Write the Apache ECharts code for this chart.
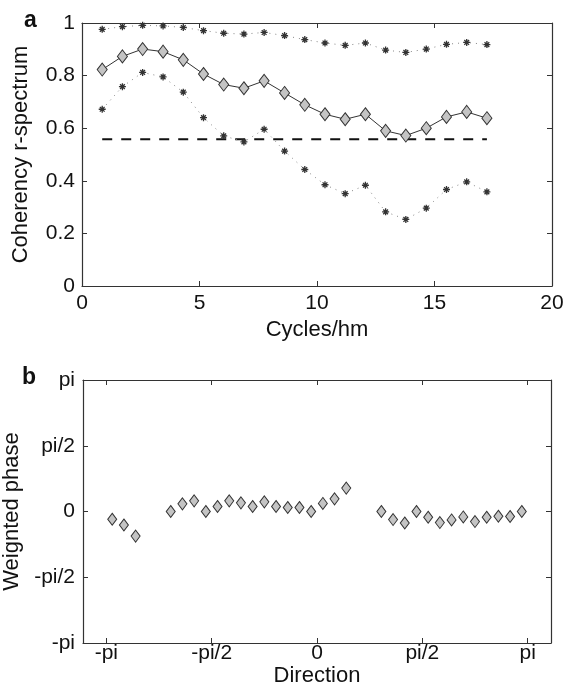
<!DOCTYPE html>
<html>
<head>
<meta charset="utf-8">
<script src="https://cdn.jsdelivr.net/npm/echarts@6/dist/echarts.min.js"></script>
<style>html,body{margin:0;padding:0;background:#fff}#c{width:564px;height:697px}</style>
</head>
<body>
<div id="c"></div>
<script>
// Panel a: coherency r-spectrum vs cycles/hm
var cycles = [0.86, 1.72, 2.58, 3.45, 4.31, 5.17, 6.03, 6.89, 7.75, 8.62, 9.48, 10.34, 11.20, 12.06, 12.92, 13.78, 14.65, 15.51, 16.37, 17.23];
var coherency = [0.823, 0.873, 0.901, 0.891, 0.860, 0.806, 0.766, 0.752, 0.780, 0.734, 0.689, 0.653, 0.634, 0.653, 0.590, 0.572, 0.600, 0.643, 0.662, 0.638];
var upperBound = [0.976, 0.986, 0.991, 0.989, 0.983, 0.971, 0.961, 0.958, 0.964, 0.952, 0.937, 0.924, 0.915, 0.924, 0.897, 0.888, 0.901, 0.919, 0.926, 0.918];
var lowerBound = [0.672, 0.758, 0.812, 0.795, 0.737, 0.640, 0.571, 0.548, 0.596, 0.513, 0.443, 0.385, 0.351, 0.383, 0.282, 0.253, 0.296, 0.367, 0.396, 0.358];
var threshold = 0.558;
var thresholdRange = [0.86, 17.23];

// Panel b: weighted phase vs direction (degrees)
var directionDeg = [-175, -165, -155,
  -125, -115, -105, -95, -85, -75, -65, -55, -45, -35, -25, -15, -5, 5, 15, 25,
  55, 65, 75, 85, 95, 105, 115, 125, 135, 145, 155, 165, 175];
var phase = [-0.185, -0.322, -0.587,
  0.000, 0.183, 0.255, 0.000, 0.120, 0.255, 0.207, 0.120, 0.231, 0.120, 0.096, 0.096, 0.000, 0.192, 0.303, 0.560,
  0.000, -0.192, -0.274, 0.000, -0.137, -0.264, -0.202, -0.130, -0.240, -0.137, -0.113, -0.120, 0.000];
var piTickLabels = ['-pi', '-pi/2', '0', 'pi/2', 'pi'];

var PI = Math.PI;
var piTicks = [-PI, -PI / 2, 0, PI / 2, PI];
function piLabel(v) {
  for (var i = 0; i < piTicks.length; i++) if (Math.abs(v - piTicks[i]) < 1e-6) return piTickLabels[i];
  return '';
}

var FONT = 'Liberation Sans';
var axisCol = '#333';
var asterisk = 'path://M5,0L5,10M0,5L10,5M1.6,1.6L8.4,8.4M1.6,8.4L8.4,1.6';

function zip(xs, ys) { return xs.map(function (x, i) { return [x, ys[i]]; }); }

var labelStyle = { color: '#111', fontFamily: FONT, fontSize: 21 };
var nameStyle = { color: '#111', fontFamily: FONT, fontSize: 22 };

function frameAxis(base) {
  return Object.assign({
    axisLine: { show: true, onZero: false, lineStyle: { color: axisCol, width: 1.2 } },
    axisTick: { show: true, inside: true, length: 5, lineStyle: { color: axisCol, width: 1 } },
    splitLine: { show: false }
  }, base);
}

var option = {
  animation: false,
  backgroundColor: '#fff',
  title: [
    { text: 'a', left: 19, top: 4, textStyle: { fontFamily: FONT, fontSize: 23, fontWeight: 'bold', color: '#111' } },
    { text: 'b', left: 17, top: 361, textStyle: { fontFamily: FONT, fontSize: 23, fontWeight: 'bold', color: '#111' } }
  ],
  grid: [
    { left: 82, top: 23, width: 470, height: 263, containLabel: false, outerBoundsMode: 'none' },
    { left: 83, top: 380, width: 468, height: 263, containLabel: false, outerBoundsMode: 'none' }
  ],
  xAxis: [
    frameAxis({ gridIndex: 0, type: 'value', min: 0, max: 20, interval: 5, position: 'bottom',
      name: 'Cycles/hm', nameLocation: 'middle', nameGap: 33, nameTextStyle: nameStyle,
      axisLabel: Object.assign({ margin: 7 }, labelStyle) }),
    frameAxis({ gridIndex: 0, type: 'value', min: 0, max: 20, interval: 5, position: 'top',
      axisLabel: { show: false } }),
    frameAxis({ gridIndex: 1, type: 'value', min: -3.49, max: 3.49, position: 'bottom',
      name: 'Direction', nameLocation: 'middle', nameGap: 22, nameTextStyle: nameStyle,
      axisTick: { show: true, inside: true, length: 5, customValues: piTicks, lineStyle: { color: axisCol, width: 1 } },
      axisLabel: Object.assign({ margin: 0, customValues: piTicks, formatter: piLabel }, labelStyle) }),
    frameAxis({ gridIndex: 1, type: 'value', min: -3.49, max: 3.49, position: 'top',
      axisTick: { show: true, inside: true, length: 5, customValues: piTicks, lineStyle: { color: axisCol, width: 1 } },
      axisLabel: { show: false, customValues: piTicks } })
  ],
  yAxis: [
    frameAxis({ gridIndex: 0, type: 'value', min: 0, max: 1, interval: 0.2, position: 'left',
      name: 'Coherency r-spectrum', nameLocation: 'middle', nameGap: 50, nameTextStyle: nameStyle,
      axisLabel: Object.assign({ margin: 7 }, labelStyle) }),
    frameAxis({ gridIndex: 0, type: 'value', min: 0, max: 1, interval: 0.2, position: 'right',
      axisLabel: { show: false } }),
    frameAxis({ gridIndex: 1, type: 'value', min: -PI, max: PI, interval: PI / 2, position: 'left',
      name: 'Weignted phase', nameLocation: 'middle', nameGap: 56, nameTextStyle: nameStyle,
      axisLabel: Object.assign({ margin: 8, formatter: piLabel }, labelStyle) }),
    frameAxis({ gridIndex: 1, type: 'value', min: -PI, max: PI, interval: PI / 2, position: 'right',
      axisLabel: { show: false } })
  ],
  series: [
    { type: 'line', xAxisIndex: 0, yAxisIndex: 0, data: zip(thresholdRange, [threshold, threshold]),
      symbol: 'none', lineStyle: { color: '#111', width: 2, type: [10, 9] }, z: 2 },
    { type: 'line', xAxisIndex: 0, yAxisIndex: 0, data: zip(cycles, upperBound),
      symbol: asterisk, symbolSize: 7,
      itemStyle: { color: '#333', borderColor: '#333', borderWidth: 1.3 },
      lineStyle: { color: '#888', width: 1, type: [1, 5] }, z: 3 },
    { type: 'line', xAxisIndex: 0, yAxisIndex: 0, data: zip(cycles, lowerBound),
      symbol: asterisk, symbolSize: 7,
      itemStyle: { color: '#333', borderColor: '#333', borderWidth: 1.3 },
      lineStyle: { color: '#888', width: 1, type: [1, 5] }, z: 3 },
    { type: 'line', xAxisIndex: 0, yAxisIndex: 0, data: zip(cycles, coherency),
      symbol: 'diamond', symbolSize: [10, 13],
      itemStyle: { color: '#c4c4c4', borderColor: '#333', borderWidth: 1 },
      lineStyle: { color: '#333', width: 1 }, z: 4 },
    { type: 'scatter', xAxisIndex: 2, yAxisIndex: 2,
      data: zip(directionDeg.map(function (d) { return d * PI / 180; }), phase),
      symbol: 'diamond', symbolSize: [9, 12],
      itemStyle: { color: '#c4c4c4', borderColor: '#333', borderWidth: 1, opacity: 1 }, z: 4 }
  ]
};

var chart = echarts.init(document.getElementById('c'), null, { renderer: 'canvas' });
chart.setOption(option);
</script>
</body>
</html>
